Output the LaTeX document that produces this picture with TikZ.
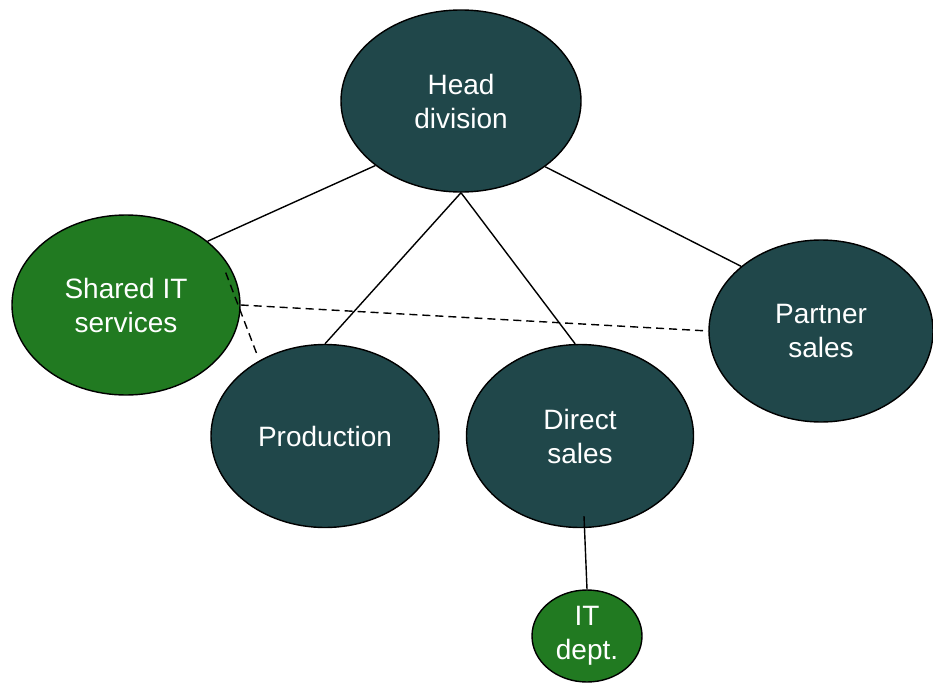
\documentclass[tikz,border=0pt]{standalone}
\usepackage{fontspec}
\setmainfont{Liberation Sans}
\usetikzlibrary{shapes.geometric,calc}
\definecolor{unitteal}{RGB}{32,71,74}
\definecolor{unitgreen}{RGB}{33,122,33}
\tikzset{
  unit/.style={ellipse, draw=black, line width=1.4pt, fill=unitteal,
    text=white, align=center, inner sep=0pt,
    font=\fontsize{28}{34}\selectfont},
  itunit/.style={unit, fill=unitgreen},
  link/.style={draw=black, line width=1.4pt},
  softlink/.style={link, dash pattern=on 8pt off 5pt},
}
\begin{document}
\begin{tikzpicture}[x=1pt,y=-1pt]
  \useasboundingbox (0,0) rectangle (933,682);

  % organisational units
  \node[unit, minimum width=240pt, minimum height=182pt] (head) at (461,101) {Head\\division};
  \node[itunit, minimum width=228pt, minimum height=180pt] (shared) at (126,305) {Shared IT\\services};
  \node[unit, minimum width=228pt, minimum height=183pt] (prod) at (325,436) {Production};
  \node[unit, minimum width=227pt, minimum height=183pt] (direct) at (580,436) {Direct\\sales};
  \node[unit, minimum width=224pt, minimum height=182pt] (partner) at (821,331) {Partner\\sales};
  \node[itunit, minimum width=110pt, minimum height=92pt] (itdept) at (587,636) {IT\\dept.};

  % reporting lines
  \draw[link] (head.217) -- (shared.38);
  \draw[link] (head.south) -- (prod.north);
  \draw[link] (head.south) -- (direct.93);
  \draw[link] (head.322) -- (partner.141);
  \draw[link] ($(direct.south)+(4,-12)$) -- (itdept.north);

  % service relations
  \draw[softlink] (shared.east) -- (partner.west);
  \draw[softlink, shorten >=6pt] ($(shared.center)!0.94!(shared.18)$) -- (prod.131);
\end{tikzpicture}
\end{document}
